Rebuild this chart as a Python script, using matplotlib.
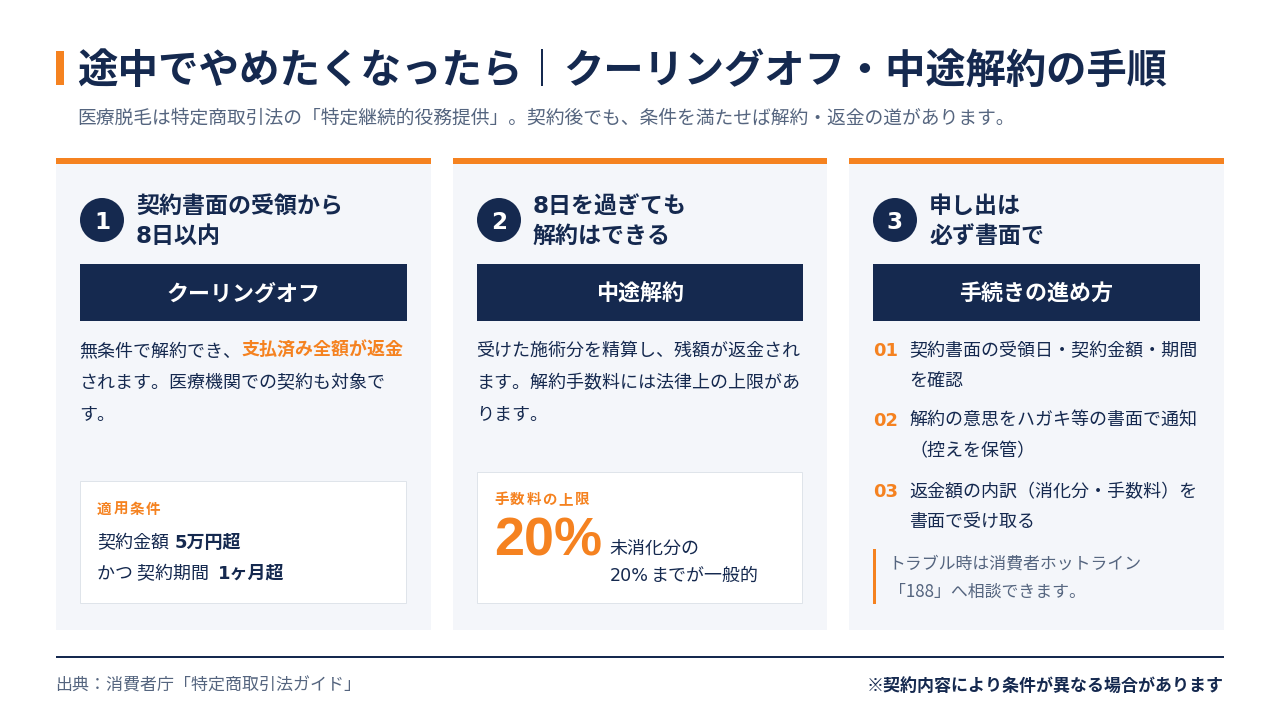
import matplotlib
matplotlib.use("Agg")
import matplotlib.pyplot as plt
from matplotlib.patches import Rectangle, Circle

plt.rcParams['font.family'] = ['Noto Sans CJK JP', 'DejaVu Sans']

NAVY = '#15294f'
ORANGE = '#f58220'
PANEL = '#f4f6fa'
GRAY = '#55657f'
BORDER = '#dfe4ea'
CJK = ['Noto Sans CJK JP', 'DejaVu Sans']
WIDE = ['DejaVu Sans', 'Noto Sans CJK JP']
LATIN = ['Liberation Sans', 'Noto Sans CJK JP']

title_left = '途中でやめたくなったら'
title_right = 'クーリングオフ・中途解約の手順'
subtitle = '医療脱毛は特定商取引法の「特定継続的役務提供」。契約後でも、条件を満たせば解約・返金の道があります。'

numbers = ['1', '2', '3']
headings = [['契約書面の受領から', '8日以内'],
            ['8日を過ぎても', '解約はできる'],
            ['申し出は', '必ず書面で']]
banners = ['クーリングオフ', '中途解約', '手続きの進め方']
panel_left = [56, 453, 849]
panel_width = [375, 374, 375]

body2 = ['受けた施術分を精算し、残額が返金され',
         'ます。解約手数料には法律上の上限があ',
         'ります。']
steps_no = ['01', '02', '03']
steps = [['契約書面の受領日・契約金額・期間', 'を確認'],
         ['解約の意思をハガキ等の書面で通知', '（控えを保管）'],
         ['返金額の内訳（消化分・手数料）を', '書面で受け取る']]
note = ['トラブル時は消費者ホットライン', '「188」へ相談できます。']

fig = plt.figure(figsize=(12.8, 7.2), dpi=100)
ax = fig.add_axes([0, 0, 1, 1])
ax.set_xlim(0, 1280)
ax.set_ylim(720, 0)
ax.axis('off')


def rect(x, y, w, h, fc, ec='none', lw=0):
    ax.add_patch(Rectangle((x, y), w, h, facecolor=fc, edgecolor=ec, linewidth=lw))


def txt(x, y, s, px, color=NAVY, bold=False, ha='left', va='baseline', family=CJK):
    # px = font size in pixels
    return ax.text(x, y, s, fontsize=px * 0.72, color=color, ha=ha, va=va,
                   fontweight='bold' if bold else 'normal', family=family)


def spaced(x, y, s, px, pitch, color=ORANGE):
    # letter-spaced label, one glyph at a time
    for k, ch in enumerate(s):
        txt(x + k * pitch, y, ch, px, color=color, bold=True)


# title
rect(56, 51, 8, 34, ORANGE)
txt(77, 83, title_left, 40.5, bold=True)
rect(541, 49, 1.5, 37, NAVY)
txt(563, 83, title_right, 40.3, bold=True)
txt(77, 124, subtitle, 18.8, color=GRAY)

# panels
for i, left in enumerate(panel_left):
    w = panel_width[i]
    rect(left, 158, w, 472, PANEL)
    rect(left, 158, w, 6, ORANGE)
    ax.add_patch(Circle((left + 46, 220), 22, facecolor=NAVY, edgecolor='none'))
    txt(left + 46, 229, numbers[i], 23, color='white', bold=True, ha='center', family=WIDE)
    txt(left + 80, 213, headings[i][0], 23, bold=True, family=WIDE)
    txt(left + 80, 243, headings[i][1], 23, bold=True, family=WIDE)
    rect(left + 24, 264, w - 48, 57, NAVY)
    txt(left + w / 2, 300, banners[i], 22, color='white', bold=True, ha='center')

# panel 1 body
txt(79.5, 356, '無条件で解約でき、', 18)
txt(242, 356, '支払済み全額が返金', 18, color=ORANGE, bold=True)
txt(79.5, 388, 'されます。医療機関での契約も対象で', 18)
txt(79.5, 420, 'す。', 18)

rect(80, 481, 326, 122, 'white', ec=BORDER, lw=0.72)
spaced(97, 514, '適用条件', 14.5, 16.2)
txt(97, 548, '契約金額', 18)
txt(175, 548, '5万円超', 18, bold=True, family=WIDE)
txt(97, 579, 'かつ 契約期間', 18)
txt(218, 579, '1ヶ月超', 18, bold=True, family=WIDE)

# panel 2 body
for j, line in enumerate(body2):
    txt(476.5, 356 + j * 32, line, 18)

rect(477, 472, 325, 131, 'white', ec=BORDER, lw=0.72)
spaced(494, 504, '手数料の上限', 14.5, 16.2)
txt(494, 556, '20%', 54, color=ORANGE, bold=True, family=LATIN)
txt(609.5, 554, '未消化分の', 18)
txt(609.5, 581, '20%', 17.5, family=WIDE)
txt(651, 581, 'までが一般的', 18)

# panel 3 steps
step_y = [356, 426, 497]
for j, y in enumerate(step_y):
    txt(873, y, steps_no[j], 18, color=ORANGE, bold=True, family=WIDE)
    txt(909.5, y, steps[j][0], 18)
    txt(909.5, y + 30, steps[j][1], 18)

rect(873, 549, 3, 55, ORANGE)
txt(888.5, 569, note[0], 16.9, color=GRAY)
txt(888.5, 597, note[1], 16.9, color=GRAY)

# footer
rect(56, 656, 1168, 2, NAVY)
txt(55, 691, '出典：消費者庁「特定商取引法ガイド」', 17, color=GRAY)
txt(1224, 691, '※契約内容により条件が異なる場合があります', 17, bold=True, ha='right')

fig.savefig('out.png', dpi=100)
